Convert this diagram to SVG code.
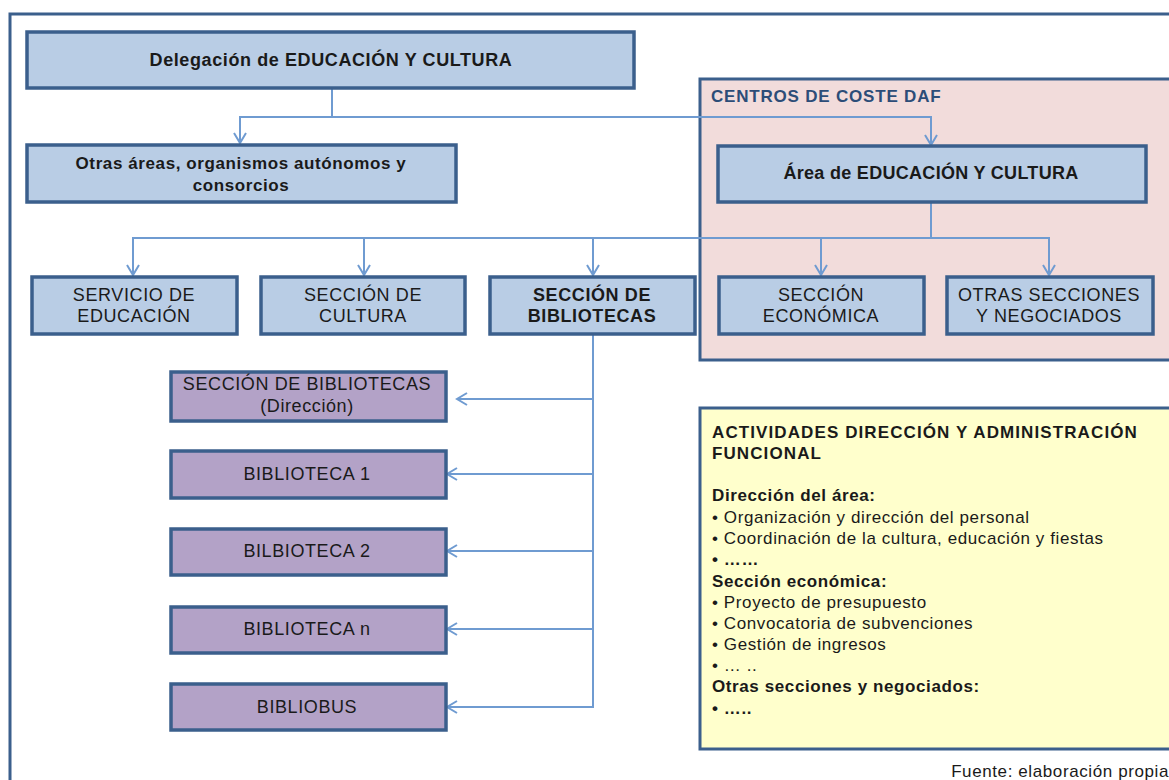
<svg xmlns="http://www.w3.org/2000/svg" width="1169" height="780" viewBox="0 0 1169 780">
<defs>
<marker id="arr" markerUnits="userSpaceOnUse" markerWidth="16" markerHeight="16" refX="12" refY="8" orient="auto">
<path d="M2,2 L12,8 L2,14" fill="none" stroke="#6f9bd1" stroke-width="2"/>
</marker>
<style>
.b{fill:#b9cde5;stroke:#3b5f8c;stroke-width:3.5}
.p{fill:#b3a2c7;stroke:#3b5f8c;stroke-width:3.5}
.t{font-family:"Liberation Sans",Arial,sans-serif;fill:#1a1a1a;text-anchor:middle;font-size:18px;letter-spacing:0.6px}
.bo{font-weight:bold}
.c{fill:none;stroke:#6f9bd1;stroke-width:2}
.y{font-family:"Liberation Sans",Arial,sans-serif;fill:#1a1a1a;font-size:17px;letter-spacing:0.6px}
.yt{letter-spacing:1.1px}
</style>
</defs>
<rect width="1169" height="780" fill="#fff"/>
<rect x="10" y="14" width="1180" height="800" fill="none" stroke="#3b5f8c" stroke-width="3"/>
<g id="costcenters">
<rect x="700" y="79" width="490" height="281" fill="#f2dcdb" stroke="#3b5f8c" stroke-width="3"/>
<text x="711" y="102" font-family="'Liberation Sans',Arial,sans-serif" font-size="17" letter-spacing="0.8" font-weight="bold" fill="#2c4d78">CENTROS DE COSTE DAF</text>
</g>
<g id="connectors">
<path class="c" d="M332,88 V117 H240 V143" marker-end="url(#arr)"/>
<path class="c" d="M332,117 H931 V145" marker-end="url(#arr)"/>
<path class="c" d="M931,202 V238 H133 V275" marker-end="url(#arr)"/>
<path class="c" d="M364,238 V275" marker-end="url(#arr)"/>
<path class="c" d="M593,238 V275" marker-end="url(#arr)"/>
<path class="c" d="M821,238 V275" marker-end="url(#arr)"/>
<path class="c" d="M931,238 H1049 V275" marker-end="url(#arr)"/>
<path class="c" d="M593,334 V707 H447" marker-end="url(#arr)"/>
<path class="c" d="M593,399 H457" marker-end="url(#arr)"/>
<path class="c" d="M593,474 H447" marker-end="url(#arr)"/>
<path class="c" d="M593,551 H447" marker-end="url(#arr)"/>
<path class="c" d="M593,629 H447" marker-end="url(#arr)"/>
</g>
<g id="delegacion">
<rect class="b" x="27" y="32" width="607" height="56"/>
<text class="t bo" x="331" y="66">Delegación de EDUCACIÓN Y CULTURA</text>
</g>
<g id="otras-areas">
<rect class="b" x="27" y="145" width="429" height="57"/>
<text class="t bo" x="241" y="169" style="font-size:17px">Otras áreas, organismos autónomos y</text>
<text class="t bo" x="241" y="191" style="font-size:17px">consorcios</text>
</g>
<g id="area">
<rect class="b" x="718" y="146" width="428" height="56"/>
<text class="t bo" x="931" y="179" style="letter-spacing:0.3px">Área de EDUCACIÓN Y CULTURA</text>
</g>
<g id="servicio-educacion">
<rect class="b" x="32" y="277" width="205" height="57"/>
<text class="t" x="134" y="301">SERVICIO DE</text>
<text class="t" x="134" y="322">EDUCACIÓN</text>
</g>
<g id="seccion-cultura">
<rect class="b" x="261" y="277" width="204" height="57"/>
<text class="t" x="363" y="301">SECCIÓN DE</text>
<text class="t" x="363" y="322">CULTURA</text>
</g>
<g id="seccion-bibliotecas">
<rect class="b" x="490" y="277" width="205" height="57"/>
<text class="t bo" x="592" y="301">SECCIÓN DE</text>
<text class="t bo" x="592" y="322">BIBLIOTECAS</text>
</g>
<g id="seccion-economica">
<rect class="b" x="719" y="277" width="205" height="57"/>
<text class="t" x="821" y="301">SECCIÓN</text>
<text class="t" x="821" y="322">ECONÓMICA</text>
</g>
<g id="otras-secciones">
<rect class="b" x="947" y="277" width="206" height="57"/>
<text class="t" x="1049" y="301">OTRAS SECCIONES</text>
<text class="t" x="1049" y="322">Y NEGOCIADOS</text>
</g>
<g id="direccion">
<rect class="p" x="171" y="372" width="275" height="49"/>
<text class="t" x="307" y="390">SECCIÓN DE BIBLIOTECAS</text>
<text class="t" x="307" y="412">(Dirección)</text>
</g>
<g id="biblioteca1">
<rect class="p" x="171" y="451" width="275" height="47"/>
<text class="t" x="307" y="480">BIBLIOTECA 1</text>
</g>
<g id="biblioteca2">
<rect class="p" x="171" y="529" width="275" height="46"/>
<text class="t" x="307" y="557">BILBIOTECA 2</text>
</g>
<g id="bibliotecan">
<rect class="p" x="171" y="607" width="275" height="46"/>
<text class="t" x="307" y="635">BIBLIOTECA n</text>
</g>
<g id="bibliobus">
<rect class="p" x="171" y="684" width="275" height="46"/>
<text class="t" x="307" y="713">BIBLIOBUS</text>
</g>
<g id="actividades">
<rect x="700" y="408" width="490" height="341" fill="#ffffcc" stroke="#3b5f8c" stroke-width="3"/>
<text class="y yt" x="712" y="438" font-weight="bold">ACTIVIDADES DIRECCIÓN Y ADMINISTRACIÓN</text>
<text class="y yt" x="712" y="459" font-weight="bold">FUNCIONAL</text>
<text class="y" x="712" y="501" font-weight="bold">Dirección del área:</text>
<text class="y" x="712" y="523">• Organización y dirección del personal</text>
<text class="y" x="712" y="544">• Coordinación de la cultura, educación y fiestas</text>
<text class="y" x="712" y="565" font-weight="bold">• ……</text>
<text class="y" x="712" y="587" font-weight="bold">Sección económica:</text>
<text class="y" x="712" y="608">• Proyecto de presupuesto</text>
<text class="y" x="712" y="629">• Convocatoria de subvenciones</text>
<text class="y" x="712" y="650">• Gestión de ingresos</text>
<text class="y" x="712" y="671">• … ..</text>
<text class="y" x="712" y="692" font-weight="bold">Otras secciones y negociados:</text>
<text class="y" x="712" y="714" font-weight="bold">• …..</text>
</g>
<text x="1169" y="777" font-family="'Liberation Sans',Arial,sans-serif" font-size="17" letter-spacing="0.6" fill="#1a1a1a" text-anchor="end">Fuente: elaboración propia</text>
</svg>
